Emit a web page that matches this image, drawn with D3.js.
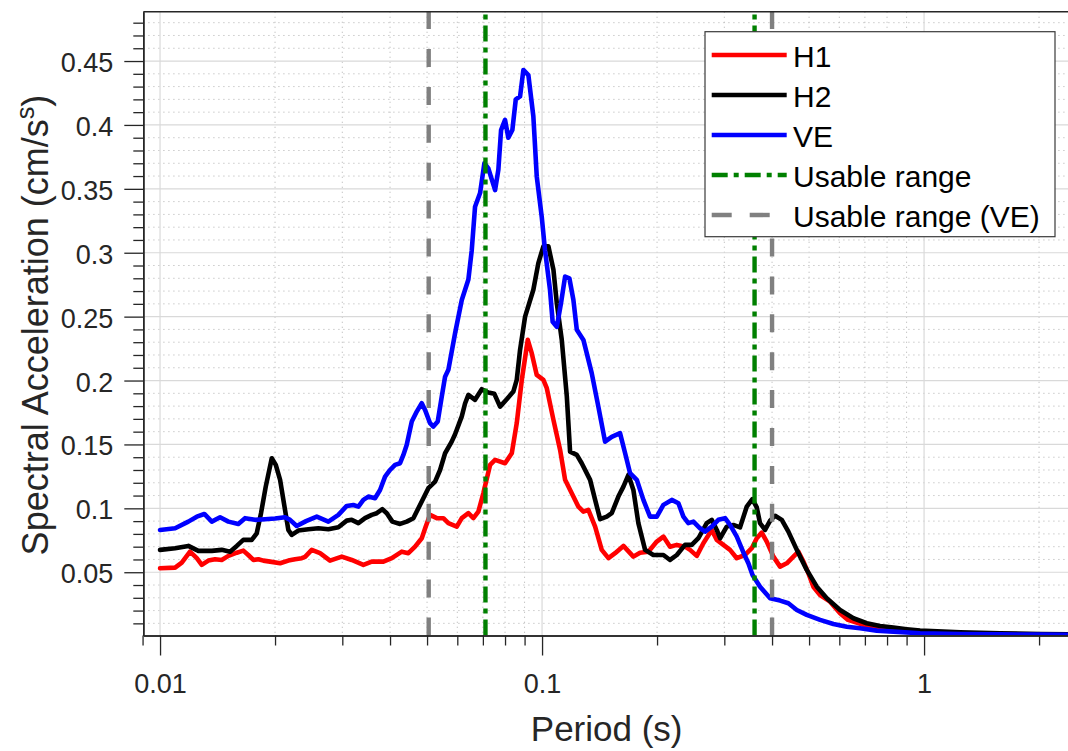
<!DOCTYPE html>
<html><head><meta charset="utf-8">
<script src="https://cdn.jsdelivr.net/npm/d3@7"></script>
<style>
html,body{margin:0;padding:0;background:#fff;}
svg{display:block;font-family:"Liberation Sans",Arial,Helvetica,sans-serif;}
</style></head><body>
<svg id="chart" width="1068" height="751"></svg>
<script>
// ---------- data ----------
const h1Period = [0.01,0.01095,0.0114,0.01198,0.01248,0.01286,0.01338,0.01393,0.0145,0.0151,
  0.01588,0.01652,0.01702,0.01755,0.01809,0.01864,0.01941,0.02062,0.02167,0.02256,
  0.0235,0.02397,0.02495,0.02623,0.02786,0.0299,0.03175,0.03406,0.03582,0.03843,
  0.04043,0.04294,0.04467,0.04651,0.04843,0.04961,0.05091,0.05301,0.05515,0.05685,
  0.05981,0.06164,0.06414,0.0661,0.06812,0.07019,0.07311,0.07534,0.08,0.08331,
  0.08585,0.0885,0.09175,0.09397,0.09685,0.1008,0.1029,0.1071,0.1115,0.1149,
  0.1196,0.1245,0.1283,0.1322,0.1377,0.1433,0.1492,0.1553,0.1633,0.1734,
  0.1805,0.1898,0.1997,0.2078,0.2163,0.2253,0.2367,0.244,0.2541,0.2644,
  0.2781,0.2867,0.2983,0.3105,0.3234,0.3399,0.354,0.3648,0.3759,0.3874,
  0.4033,0.4198,0.4372,0.455,0.4688,0.4832,0.4979,0.5131,0.5343,0.5675,
  0.6027,0.6324,0.6935,0.7519,0.8311,0.9761,1.243,1.581,2.013,2.41];
const h1Sa = [0.0531,0.0536,0.0575,0.0661,0.061,0.0557,0.0591,0.0602,0.0596,0.0628,
  0.0653,0.0669,0.0635,0.0596,0.0602,0.0591,0.0583,0.057,0.0591,0.0602,
  0.061,0.062,0.0675,0.0649,0.0591,0.0622,0.0596,0.0557,0.0583,0.0583,
  0.061,0.0661,0.0649,0.07,0.0766,0.0857,0.0949,0.0923,0.0923,0.0884,
  0.0857,0.0923,0.0962,0.0923,0.0974,0.1118,0.134,0.1379,0.1353,0.1431,
  0.1666,0.2005,0.2318,0.2214,0.2044,0.2005,0.194,0.1692,0.1457,0.1223,
  0.1118,0.1013,0.0974,0.0988,0.0857,0.0675,0.061,0.0649,0.0706,0.0622,
  0.0653,0.0661,0.074,0.0779,0.07,0.0714,0.07,0.0675,0.0628,0.0727,
  0.0831,0.0753,0.0714,0.0675,0.061,0.0635,0.0688,0.0766,0.081,0.074,
  0.0622,0.0544,0.057,0.0622,0.0661,0.0583,0.0492,0.0387,0.0322,0.027,
  0.0179,0.0127,0.0088,0.0067,0.0048,0.003,0.0021,0.0016,0.0013,0.0012];

const h2Period = [0.01,0.01095,0.01186,0.0126,0.01366,0.0145,0.01525,0.01588,0.01652,0.01738,
  0.01791,0.01838,0.01891,0.01961,0.02009,0.02062,0.02124,0.02167,0.02212,0.02301,
  0.02445,0.02597,0.02758,0.0293,0.03081,0.03175,0.03305,0.0344,0.03582,0.03692,
  0.03819,0.03922,0.04057,0.04249,0.04424,0.04604,0.04745,0.0489,0.05039,0.05248,
  0.05408,0.05574,0.05801,0.0592,0.06164,0.06287,0.06414,0.06677,0.06952,0.07235,
  0.07502,0.07764,0.08083,0.08411,0.08585,0.08759,0.09028,0.09489,0.09779,0.1008,
  0.1039,0.1071,0.1093,0.1126,0.1161,0.1184,0.1233,0.127,0.1336,0.1377,
  0.1419,0.1477,0.1522,0.1584,0.1633,0.1683,0.1734,0.1787,0.1861,0.1956,
  0.2078,0.2163,0.2253,0.2367,0.2465,0.2566,0.2698,0.2781,0.2867,0.2924,
  0.3044,0.3168,0.3298,0.3435,0.3552,0.3648,0.3721,0.3835,0.3954,0.4074,
  0.4242,0.4414,0.4644,0.4931,0.5238,0.5563,0.6027,0.6531,0.7079,0.767,
  0.8311,0.9009,0.9761,1.243,1.581,2.013,2.41];
const h2Sa = [0.0675,0.0688,0.0706,0.0667,0.0667,0.0675,0.0661,0.0706,0.0753,0.0753,
  0.0805,0.0962,0.117,0.1392,0.134,0.1223,0.0988,0.0831,0.0792,0.0826,
  0.0837,0.0844,0.0837,0.0852,0.0904,0.091,0.0884,0.0923,0.0949,0.0962,
  0.0993,0.0962,0.0896,0.0878,0.0896,0.0923,0.1001,0.1079,0.1158,0.1209,
  0.130,0.1431,0.1522,0.158,0.172,0.182,0.1888,0.1849,0.1932,0.1906,
  0.1896,0.1796,0.1854,0.1914,0.2005,0.224,0.25,0.271,0.2919,0.305,
  0.305,0.2867,0.2605,0.232,0.1875,0.1444,0.1418,0.1353,0.1223,0.1066,
  0.0915,0.0935,0.0962,0.1092,0.117,0.1262,0.1144,0.0884,0.0675,0.0635,
  0.0635,0.0596,0.0635,0.0714,0.0714,0.0766,0.0884,0.091,0.0831,0.0766,
  0.0857,0.087,0.0851,0.1014,0.1072,0.1007,0.0884,0.0831,0.0903,0.0942,
  0.091,0.0818,0.0675,0.0518,0.0387,0.0296,0.0205,0.014,0.0101,0.008,
  0.0067,0.0054,0.0043,0.003,0.0022,0.0017,0.0014];

const vePeriod = [0.01,0.01095,0.01186,0.01248,0.01306,0.01366,0.01436,0.0151,0.01603,0.01669,
  0.01773,0.01883,0.02,0.02124,0.02189,0.02279,0.02411,0.02572,0.02758,0.0293,
  0.03081,0.03206,0.03305,0.03406,0.0351,0.03654,0.03766,0.03882,0.04,0.04123,
  0.04249,0.04335,0.04424,0.0456,0.04699,0.04843,0.0494,0.05091,0.05193,0.05333,
  0.05463,0.05574,0.05685,0.0592,0.06164,0.06414,0.06546,0.06677,0.06882,0.07063,
  0.07235,0.07534,0.07685,0.07811,0.08,0.08161,0.08361,0.08535,0.08759,0.08935,
  0.09208,0.09489,0.09685,0.09982,0.1018,0.1049,0.1066,0.1093,0.1121,0.1149,
  0.1179,0.1208,0.1233,0.1283,0.1349,0.1404,0.1462,0.1522,0.16,0.165,
  0.17,0.177,0.1842,0.1917,0.1997,0.2078,0.2186,0.2275,0.2344,0.2415,
  0.249,0.2592,0.2672,0.2781,0.2894,0.3014,0.3105,0.3234,0.3365,0.3468,
  0.3556,0.3721,0.3954,0.4198,0.4414,0.4644,0.4931,0.5343,0.5789,0.6277,
  0.6801,0.7519,0.8311,0.9761,1.243,1.581,2.013,2.41];
const veSa = [0.0831,0.0844,0.0896,0.0935,0.0956,0.0896,0.093,0.0896,0.0878,0.0923,
  0.091,0.0915,0.092,0.093,0.091,0.0862,0.090,0.0935,0.0896,0.0949,
  0.1019,0.1026,0.1013,0.1066,0.1092,0.1079,0.1143,0.1248,0.130,0.134,
  0.1353,0.1418,0.1497,0.1679,0.1757,0.1823,0.177,0.1666,0.164,0.168,
  0.1875,0.203,0.2084,0.237,0.263,0.279,0.302,0.336,0.3467,0.370,
  0.366,0.349,0.365,0.396,0.404,0.390,0.396,0.420,0.4223,0.443,
  0.439,0.4067,0.3597,0.328,0.302,0.271,0.246,0.242,0.2605,0.2814,
  0.280,0.263,0.2397,0.2318,0.2058,0.1796,0.1522,0.156,0.1588,0.1431,
  0.1275,0.1223,0.1066,0.0935,0.0935,0.1027,0.1066,0.104,0.0935,0.0884,
  0.0896,0.0844,0.0818,0.0857,0.091,0.0923,0.087,0.0779,0.0655,0.057,
  0.0479,0.0387,0.0296,0.0278,0.0257,0.0205,0.0166,0.0127,0.0095,0.0074,
  0.0062,0.0043,0.0035,0.0023,0.0017,0.0014,0.0012,0.0011];

const usableRange = [0.0711, 0.36];
const usableRangeVE = [0.0505, 0.4];

const xMajorTicks = [0.01, 0.1, 1];
const xTickLabels = ["0.01", "0.1", "1"];
const xMinorTicks = [0.009,0.02,0.03,0.04,0.05,0.06,0.07,0.08,0.09,0.2,0.3,0.4,0.5,0.6,0.7,0.8,0.9,2];
const yMajorTicks = [0.05,0.1,0.15,0.2,0.25,0.3,0.35,0.4,0.45];
const yTickLabels = ["0.05","0.1","0.15","0.2","0.25","0.3","0.35","0.4","0.45"];
const yMinorTicks = [0.01,0.02,0.03,0.04,0.06,0.07,0.08,0.09,0.11,0.12,0.13,0.14,0.16,0.17,0.18,0.19,
  0.21,0.22,0.23,0.24,0.26,0.27,0.28,0.29,0.31,0.32,0.33,0.34,0.36,0.37,0.38,0.39,
  0.41,0.42,0.43,0.44,0.46,0.47,0.48];

const seriesNames = ["H1","H2","VE"];
const seriesColors = ["#ff0000","#000000","#0000ff"];

// ---------- layout ----------
const plot = {left:143.3, top:11.7, right:1070, bottom:635.5};
const svg = d3.select("#chart");
const x = d3.scaleLog().domain([0.00904, 2.41]).range([plot.left, plot.right]);
const y = d3.scaleLinear().domain([0.0005, 0.4886]).range([plot.bottom, plot.top]);
const axisColor = "#262626";
const greenDash = "16,6,5,6";
const grayDash = "18,19.9";

svg.append("defs").append("clipPath").attr("id","clip")
  .append("rect").attr("x",plot.left).attr("y",plot.top)
  .attr("width",plot.right-plot.left).attr("height",plot.bottom-plot.top);

// grid
const grid = svg.append("g");
grid.selectAll(".vmin").data(xMinorTicks.filter(d=>d>0.0095)).enter().append("line")
  .attr("x1",d=>x(d)).attr("x2",d=>x(d)).attr("y1",plot.top).attr("y2",plot.bottom)
  .attr("stroke","#bdbdbd").attr("stroke-width",1).attr("stroke-dasharray","1.2,3.8");
grid.selectAll(".hmin").data(yMinorTicks).enter().append("line")
  .attr("y1",d=>y(d)).attr("y2",d=>y(d)).attr("x1",plot.left).attr("x2",plot.right)
  .attr("stroke","#bdbdbd").attr("stroke-width",1).attr("stroke-dasharray","1.2,3.8");
grid.selectAll(".vmaj").data(xMajorTicks).enter().append("line")
  .attr("x1",d=>x(d)).attr("x2",d=>x(d)).attr("y1",plot.top).attr("y2",plot.bottom)
  .attr("stroke","#d9d9d9").attr("stroke-width",1.2);
grid.selectAll(".hmaj").data(yMajorTicks).enter().append("line")
  .attr("y1",d=>y(d)).attr("y2",d=>y(d)).attr("x1",plot.left).attr("x2",plot.right)
  .attr("stroke","#d9d9d9").attr("stroke-width",1.2);

// data lines
const line = d3.line().x(d=>x(d[0])).y(d=>y(d[1]));
const series = [
  d3.zip(h1Period, h1Sa),
  d3.zip(h2Period, h2Sa),
  d3.zip(vePeriod, veSa)
];
const dataG = svg.append("g").attr("clip-path","url(#clip)");
series.forEach((s,i)=>{
  dataG.append("path").datum(s).attr("d",line)
    .attr("fill","none").attr("stroke",seriesColors[i]).attr("stroke-width",4.6)
    .attr("stroke-linejoin","round").attr("stroke-linecap","round");
});

// vertical usable range lines (drawn bottom to top)
const vG = svg.append("g").attr("clip-path","url(#clip)");
usableRange.forEach(v=>{
  vG.append("line").attr("x1",x(v)).attr("x2",x(v)).attr("y1",y(0.0005)).attr("y2",y(0.4886))
    .attr("stroke","#008000").attr("stroke-width",4.4).attr("stroke-dasharray",greenDash);
});
usableRangeVE.forEach(v=>{
  vG.append("line").attr("x1",x(v)).attr("x2",x(v)).attr("y1",y(0.0005)).attr("y2",y(0.4886))
    .attr("stroke","#808080").attr("stroke-width",4.4).attr("stroke-dasharray",grayDash);
});

// axes
const yMinorAxis = d3.axisLeft(y).tickValues(yMinorTicks).tickSize(10).tickSizeOuter(0).tickFormat("");
const yAxis = d3.axisLeft(y).tickValues(yMajorTicks).tickSize(19).tickSizeOuter(0).tickPadding(11)
  .tickFormat((d,i)=>yTickLabels[i]);
const xMinorAxis = d3.axisBottom(x).tickValues(xMinorTicks).tickSize(10).tickSizeOuter(0).tickFormat("");
const xAxis = d3.axisBottom(x).tickValues(xMajorTicks).tickSize(20).tickSizeOuter(0).tickPadding(18)
  .tickFormat((d,i)=>xTickLabels[i]);

function styleAxis(g){
  g.select(".domain").attr("stroke",axisColor).attr("stroke-width",1.5);
  g.selectAll(".tick line").attr("stroke",axisColor).attr("stroke-width",1.3);
  g.selectAll("text").attr("fill",axisColor).attr("font-size",27)
    .attr("font-family",'"Liberation Sans",Arial,Helvetica,sans-serif');
}
svg.append("g").attr("transform",`translate(${plot.left},0)`).call(yMinorAxis).call(styleAxis);
svg.append("g").attr("transform",`translate(${plot.left},0)`).call(yAxis).call(styleAxis)
  .selectAll("text").attr("dy","0.39em");
svg.append("g").attr("transform",`translate(0,${plot.bottom})`).call(xMinorAxis).call(styleAxis);
svg.append("g").attr("transform",`translate(0,${plot.bottom})`).call(xAxis).call(styleAxis);

// top border
svg.append("line").attr("x1",plot.left).attr("x2",plot.right).attr("y1",plot.top).attr("y2",plot.top)
  .attr("stroke",axisColor).attr("stroke-width",1.5);

// axis titles
svg.append("text").attr("x",(plot.left+plot.right)/2).attr("y",741).attr("text-anchor","middle")
  .attr("font-size",35).attr("fill",axisColor).text("Period (s)");
const yt = svg.append("text").attr("transform","translate(48,325) rotate(-90)")
  .attr("text-anchor","middle").attr("font-size",36).attr("fill",axisColor);
yt.append("tspan").text("Spectral Acceleration (cm/s");
yt.append("tspan").attr("baseline-shift","super").attr("font-size","70%").text("s");
yt.append("tspan").text(")");

// legend
const legendItems = [
  {label:"H1", color:seriesColors[0], dash:null},
  {label:"H2", color:seriesColors[1], dash:null},
  {label:"VE", color:seriesColors[2], dash:null},
  {label:"Usable range", color:"#008000", dash:greenDash},
  {label:"Usable range (VE)", color:"#808080", dash:"20,18"}
];
const lg = svg.append("g");
lg.append("rect").attr("x",705).attr("y",31.7).attr("width",350).attr("height",205)
  .attr("fill","#fff").attr("stroke","#3a3a3a").attr("stroke-width",1.2);
legendItems.forEach((it,i)=>{
  const ry = 55 + i*40;
  lg.append("line").attr("x1",711.7).attr("x2",786.7).attr("y1",ry).attr("y2",ry)
    .attr("stroke",it.color).attr("stroke-width",4.4)
    .attr("stroke-dasharray",it.dash);
  lg.append("text").attr("x",793).attr("y",ry+11.5).attr("font-size",30).attr("fill","#000")
    .text(it.label);
});
</script>
</body></html>
